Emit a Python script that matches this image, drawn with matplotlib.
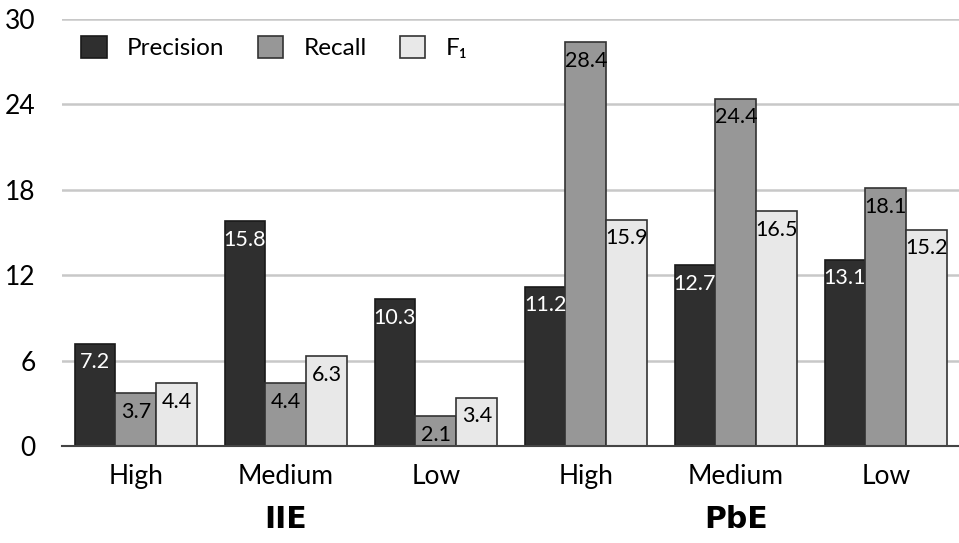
import matplotlib
matplotlib.use("Agg")
import matplotlib.pyplot as plt
import numpy as np

plt.rcParams['font.family'] = ['Lato', 'DejaVu Sans']

categories = ["High", "Medium", "Low", "High", "Medium", "Low"]
groups = ["IIE", "PbE"]
series_names = ["Precision", "Recall", "F\u2081"]
precision = [7.2, 15.8, 10.3, 11.2, 12.7, 13.1]
recall = [3.7, 4.4, 2.1, 28.4, 24.4, 18.1]
f1 = [4.4, 6.3, 3.4, 15.9, 16.5, 15.2]
yticks = [0, 6, 12, 18, 24, 30]

fill_colors = ["#2f2f2f", "#979797", "#e8e8e8"]
edge_colors = ["#1a1a1a", "#333333", "#333333"]
label_colors = ["white", "black", "black"]

fig = plt.figure(figsize=(9.59, 5.43), dpi=100)
ax = fig.add_axes([62 / 959, 1 - 446 / 543, 897 / 959, 427 / 543])

x = np.arange(len(categories))
width = 0.273
offsets = [-width, 0, width]

for vals, off, fc, ec, lc, name in zip([precision, recall, f1], offsets,
                                        fill_colors, edge_colors, label_colors,
                                        series_names):
    bars = ax.bar(x + off, vals, width, color=fc, edgecolor=ec, linewidth=1.2,
                  label=name, zorder=3)
    for b, v in zip(bars, vals):
        ax.annotate(f"{v:.1f}", (b.get_x() + b.get_width() / 2, v),
                    xytext=(0, -13.5), textcoords="offset points",
                    ha="center", va="center", fontsize=15.5, color=lc, zorder=4)

ax.set_ylim(0, 30)
ax.set_xlim(-0.493, 5.487)
ax.set_yticks(yticks)
ax.set_yticklabels([str(t) for t in yticks], fontsize=19)
ax.set_xticks(x)
ax.set_xticklabels(categories, fontsize=19)
ax.tick_params(axis="both", length=0)
ax.tick_params(axis="y", pad=19)
ax.tick_params(axis="x", pad=13)

ax.yaxis.grid(True, color="#c8c8c8", linewidth=1.8, zorder=0)
ax.set_axisbelow(True)
for s in ["top", "right", "left"]:
    ax.spines[s].set_visible(False)
ax.spines["bottom"].set_color("#444444")
ax.spines["bottom"].set_linewidth(1.5)
ax.spines["bottom"].set_zorder(5)

for gi, g in enumerate(groups):
    ax.text(1 + 3 * gi, -0.172, g, transform=ax.get_xaxis_transform(),
            ha="center", va="center", fontsize=21.5, fontweight="bold",
            family="DejaVu Sans")

leg = ax.legend(loc="upper left", ncol=3, frameon=False, fontsize=17.5,
                bbox_to_anchor=(0.005, 0.995), handlelength=1.05, handleheight=1.05,
                handletextpad=0.85, columnspacing=1.35, borderaxespad=0.2)

fig.savefig("out.png", dpi=100)
